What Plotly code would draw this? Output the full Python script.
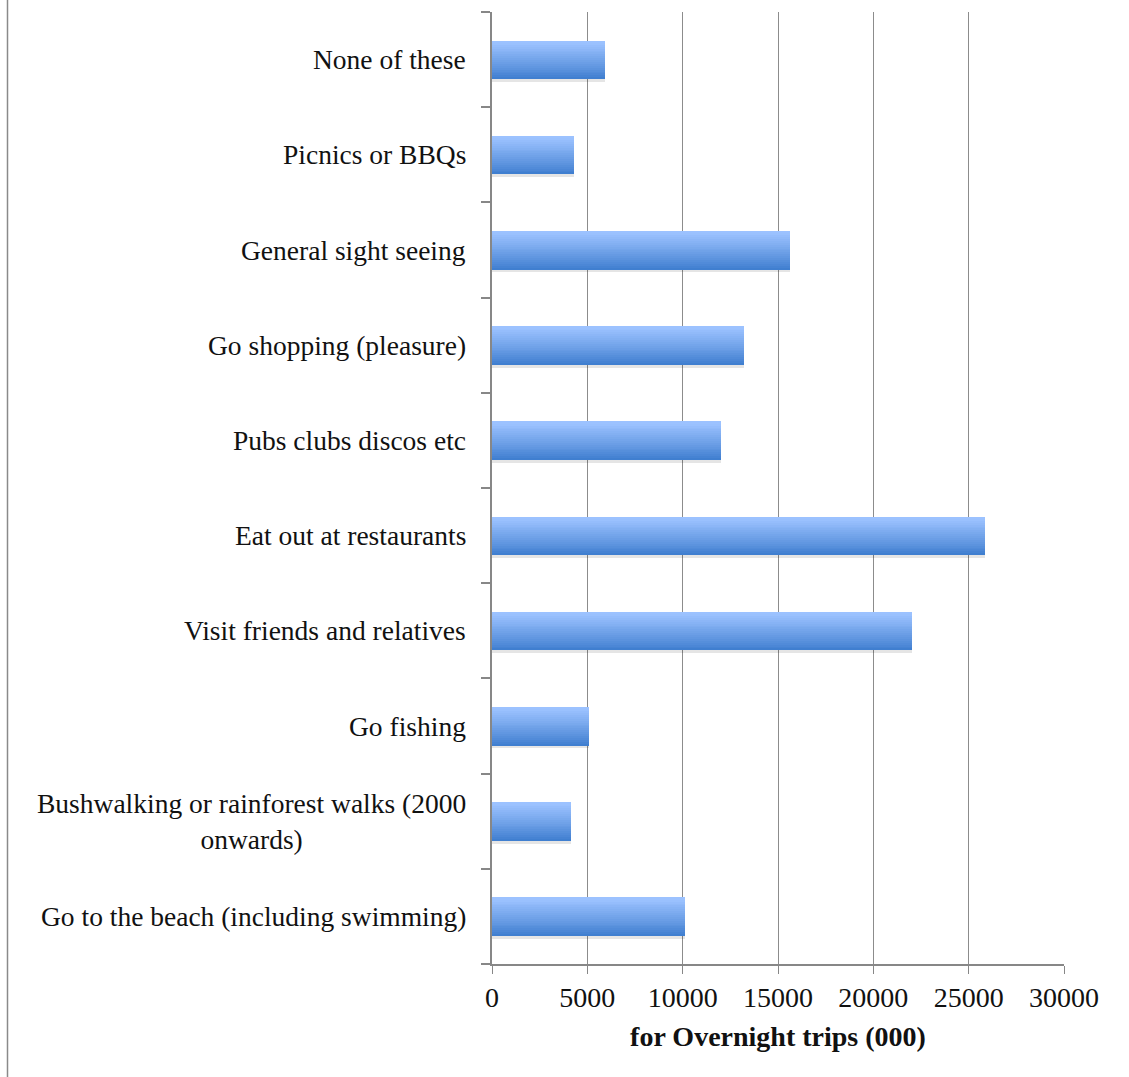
import plotly.graph_objects as go

categories = ["Go to the beach (including swimming)",
              "Bushwalking or rainforest walks (2000 onwards)",
              "Go fishing",
              "Visit friends and relatives",
              "Eat out at restaurants",
              "Pubs clubs discos etc",
              "Go shopping (pleasure)",
              "General sight seeing",
              "Picnics or BBQs",
              "None of these"]
labels = ["Go to the beach (including swimming)",
          "Bushwalking or rainforest walks (2000<br>onwards)",
          "Go fishing",
          "Visit friends and relatives",
          "Eat out at restaurants",
          "Pubs clubs discos etc",
          "Go shopping (pleasure)",
          "General sight seeing",
          "Picnics or BBQs",
          "None of these"]
values = [10110, 4130, 5070, 22020, 25850, 12000, 13210, 15620, 4290, 5930]
x_ticks = [0, 5000, 10000, 15000, 20000, 25000, 30000]

FONT = "Liberation Serif"
BAR_W = 0.4
N = 20
bottom = (60, 124, 206)
top = (156, 194, 255)

fig = go.Figure()

# soft shadow under bars
fig.add_trace(go.Bar(
    y=categories, x=values, orientation="h",
    offset=-BAR_W / 2 - 0.035, width=0.035,
    marker=dict(color="rgba(0,0,0,0.10)", line=dict(width=0)),
    hoverinfo="skip", showlegend=False))

for k in range(N):
    t = (k + 0.5) / N
    tt = min(1.0, t ** 0.9 * 1.05)
    c = tuple(round(bottom[i] + (top[i] - bottom[i]) * tt) for i in range(3))
    fig.add_trace(go.Bar(
        y=categories, x=values, orientation="h",
        offset=-BAR_W / 2 + k * BAR_W / N, width=BAR_W / N * 1.02,
        marker=dict(color="rgb(%d,%d,%d)" % c, line=dict(width=0)),
        hoverinfo="skip", showlegend=False))

for cat, lab in zip(categories, labels):
    fig.add_annotation(
        x=0, xref="paper", y=cat, yref="y",
        text=lab, showarrow=False, xanchor="right", yanchor="middle",
        align="center", xshift=-24,
        font=dict(family=FONT, size=27.5, color="#111"))

fig.add_shape(type="line", xref="paper", yref="paper",
              x0=(7.5 - 492) / 572, x1=(7.5 - 492) / 572, y0=-0.2, y1=1.1,
              line=dict(color="#8a8a8a", width=1.5))

fig.update_layout(
    width=1129, height=1077,
    margin=dict(l=492, r=65, t=12, b=113),
    paper_bgcolor="white", plot_bgcolor="white",
    barmode="overlay", bargap=0,
    showlegend=False,
    font=dict(family=FONT, size=27, color="#111"),
    xaxis=dict(
        range=[0, 30000], tickvals=x_ticks,
        ticktext=[str(v) for v in x_ticks],
        showgrid=True, gridcolor="#8c8c8c", gridwidth=1,
        zeroline=False, showline=True, linecolor="#878787", linewidth=1.5,
        ticks="outside", ticklen=8, tickcolor="#878787", tickwidth=1,
        tickfont=dict(family=FONT, size=28, color="#111"),
        title=dict(text="<b>for Overnight trips (000)</b>",
                   font=dict(family=FONT, size=28, color="#111"), standoff=14),
    ),
    yaxis=dict(
        type="category", categoryorder="array", categoryarray=categories,
        range=[-0.5, 9.5], showticklabels=False,
        showline=True, linecolor="#878787", linewidth=1.5,
        ticks="outside", tickson="boundaries", ticklen=9,
        tickcolor="#878787", tickwidth=1.5, showgrid=False, zeroline=False,
    ),
)

fig.write_html("out.html")
